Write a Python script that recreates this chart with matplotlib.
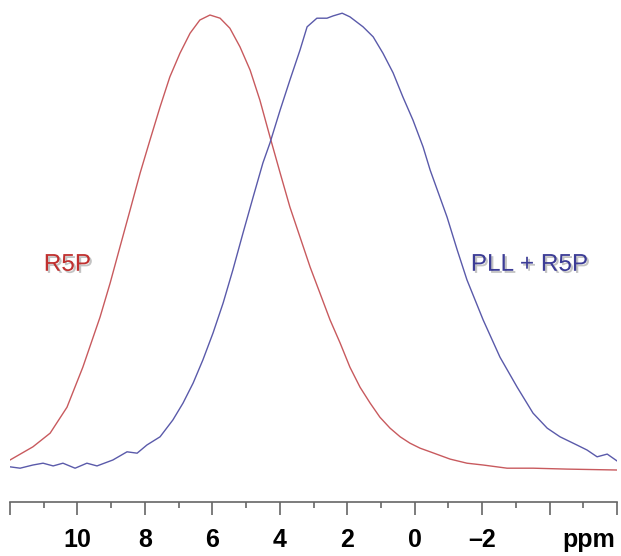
import numpy as np
import matplotlib
matplotlib.use("Agg")
import matplotlib.pyplot as plt
import matplotlib.patheffects as pe

plt.rcParams['font.family'] = ['Liberation Sans', 'DejaVu Sans']

# R5P spectrum (ppm, normalised intensity)
r5p_ppm = [12.00, 11.32, 10.81, 10.31, 9.84, 9.33, 9.03, 8.74, 8.44, 8.14, 7.85, 7.55,
           7.26, 6.96, 6.66, 6.37, 6.07, 5.77, 5.48, 5.18, 4.88, 4.59, 4.29, 3.99,
           3.70, 3.40, 3.10, 2.81, 2.51, 2.21, 1.92, 1.62, 1.32, 1.03, 0.73, 0.43,
           0.14, -0.16, -0.46, -1.05, -1.55, -2.03, -2.74, -3.51, -4.52, -6.00]
r5p_int = [0.022, 0.051, 0.081, 0.138, 0.226, 0.336, 0.411, 0.490, 0.571, 0.653, 0.725, 0.798,
           0.864, 0.916, 0.960, 0.989, 1.000, 0.993, 0.971, 0.930, 0.879, 0.813, 0.732, 0.653,
           0.578, 0.512, 0.446, 0.389, 0.330, 0.279, 0.226, 0.182, 0.147, 0.116, 0.092, 0.073,
           0.059, 0.048, 0.040, 0.024, 0.015, 0.011, 0.004, 0.004, 0.002, 0.000]

# PLL + R5P spectrum
pll_ppm = [12.00, 11.70, 11.32, 11.02, 10.72, 10.43, 10.07, 9.72, 9.42, 8.95, 8.53, 8.23,
           7.94, 7.55, 7.17, 6.87, 6.57, 6.28, 5.98, 5.68, 5.39, 5.09, 4.79, 4.50,
           4.29, 3.99, 3.70, 3.40, 3.19, 2.90, 2.60, 2.42, 2.15, 1.92, 1.53, 1.23,
           0.94, 0.64, 0.35, 0.05, -0.25, -0.46, -0.96, -1.26, -1.55, -2.03, -2.53, -3.04,
           -3.51, -3.93, -4.31, -4.81, -5.11, -5.41, -5.71, -6.00]
pll_int = [0.007, 0.004, 0.011, 0.015, 0.009, 0.015, 0.004, 0.015, 0.009, 0.022, 0.040, 0.037,
           0.055, 0.073, 0.110, 0.147, 0.191, 0.242, 0.301, 0.367, 0.440, 0.521, 0.600, 0.675,
           0.719, 0.791, 0.857, 0.923, 0.974, 0.993, 0.993, 0.998, 1.004, 0.996, 0.974, 0.952,
           0.916, 0.873, 0.820, 0.769, 0.710, 0.659, 0.556, 0.484, 0.418, 0.330, 0.248, 0.182,
           0.125, 0.092, 0.073, 0.055, 0.044, 0.029, 0.035, 0.020]

major_ticks = [12, 10, 8, 6, 4, 2, 0, -2, -4, -6]
tick_labels = ['', '10', '8', '6', '4', '2', '0', '–2', '', '']
minor_ticks = [11, 9, 7, 5, 3, 1, -1, -3, -5]

W, H = 621, 556
fig = plt.figure(figsize=(W / 100, H / 100), dpi=100)
ax = fig.add_axes([10 / W, (H - 502) / H, 607 / W, 502 / H])

red = '#c85a5e'
blue = '#5a5aaa'
ax.plot(r5p_ppm, r5p_int, color=red, lw=1.0, solid_joinstyle='round')
ax.plot(pll_ppm, pll_int, color=blue, lw=1.0, solid_joinstyle='round')

ax.set_xlim(12, -6)
ax.set_ylim(-0.0703, 1.033)

for s in ['top', 'left', 'right']:
    ax.spines[s].set_visible(False)
ax.spines['bottom'].set_color('#666666')
ax.spines['bottom'].set_linewidth(1.2)
ax.set_yticks([])
ax.set_xticks(major_ticks)
ax.set_xticklabels(tick_labels, fontsize=18, fontweight='bold')
ax.set_xticks(minor_ticks, minor=True)
ax.tick_params(axis='x', which='major', length=9.5, width=1.2, color='#666666', pad=9)
ax.tick_params(axis='x', which='minor', length=4, width=1.2, color='#666666')

# unit label on the tick-label line
ax.annotate('ppm', xy=(-5.95, 0), xycoords=('data', 'axes fraction'),
            xytext=(0, -18.5), textcoords='offset points',
            ha='right', va='top', fontsize=18, fontweight='bold')

shadow = [pe.SimplePatchShadow(offset=(1.5, -1.5), alpha=0.35, shadow_rgbFace='#555555'),
          pe.Normal()]
ax.text(10.3, 0.451, 'R5P', color='#c0302f', fontsize=17.5, ha='center', va='center',
        path_effects=shadow)
ax.text(-3.4, 0.451, 'PLL + R5P', color='#3c3c96', fontsize=17.5, ha='center', va='center',
        path_effects=shadow)

fig.savefig('out.png', dpi=100)
